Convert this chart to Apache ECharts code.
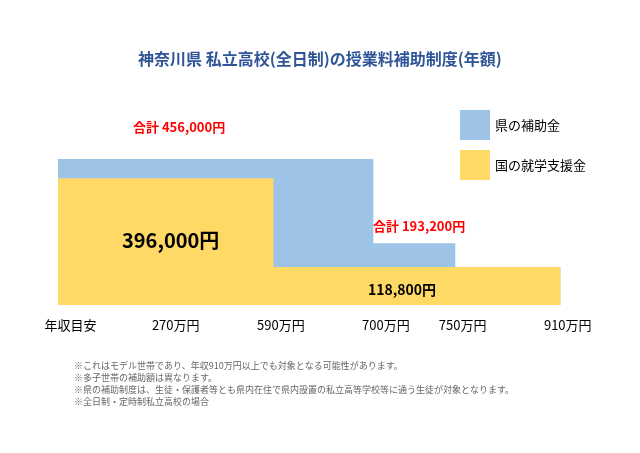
<!DOCTYPE html><html><head><meta charset="utf-8">
<script src="https://cdn.jsdelivr.net/npm/echarts@6/dist/echarts.min.js"></script>
<style>html,body{margin:0;background:#fff}#c{width:640px;height:453px}</style></head><body><div id="c"></div>
<script>
const stepX = [0, 2.05, 3, 3.78, 4.78];
const nationalAid = [396000, 118800, 118800, 118800, 118800];
const prefAid = [60000, 337200, 74400, 0, 0];
const tickPos = [0.12, 1.12, 2.12, 3.12, 3.85, 4.85];
const tickLabels = ['年収目安', '270万円', '590万円', '700万円', '750万円', '910万円'];
const notes = [
 '※これはモデル世帯であり、年収910万円以上でも対象となる可能性があります。',
 '※多子世帯の補助額は異なります。',
 '※県の補助制度は、生徒・保護者等とも県内在住で県内設置の私立高等学校等に通う生徒が対象となります。',
 '※全日制・定時制私立高校の場合'
];
const F = '"Noto Sans CJK JP", sans-serif';
const chart = echarts.init(document.getElementById('c'));
const z = (a) => stepX.map((x, i) => [x, a[i]]);
const totals = nationalAid.map((v, i) => v + prefAid[i]);
chart.setOption({
 animation: false,
 textStyle: {fontFamily: F},
 title: {text: '神奈川県 私立高校(全日制)の授業料補助制度(年額)', left: 'center', top: 46,
  textStyle: {fontFamily: F, fontSize: 16, fontWeight: 'bold', color: '#2f5597'}},
 legend: {data: ['県の補助金', '国の就学支援金'], orient: 'vertical', left: 455, top: 105,
  itemWidth: 30, itemHeight: 30, itemGap: 10, icon: 'rect',
  textStyle: {fontFamily: F, fontSize: 13, color: '#000'}},
 grid: {left: 58, right: 67, top: 145, bottom: 148},
 xAxis: {type: 'value', min: 0, max: 4.9, splitLine: {show: false}, axisLine: {show: false}, axisTick: {show: false},
  axisLabel: {customValues: tickPos, margin: 14, fontSize: 13, color: '#000', fontFamily: F,
   formatter: (v) => tickLabels[tickPos.findIndex(p => Math.abs(p - v) < 1e-6)]}},
 yAxis: {type: 'value', min: 0, max: 500000, show: false, splitLine: {show: false}},
 series: [
  {name: '県の補助金', type: 'line', step: 'end', data: z(totals), symbol: 'none', z: 1,
   lineStyle: {width: 0}, areaStyle: {color: '#9dc3e6', opacity: 1}, itemStyle: {color: '#9dc3e6'}},
  {name: '国の就学支援金', type: 'line', step: 'end', data: z(nationalAid), symbol: 'none', z: 2,
   lineStyle: {width: 0}, areaStyle: {color: '#ffd966', opacity: 1}, itemStyle: {color: '#ffd966'}}
 ],
 graphic: [
  {type: 'text', z: 100, left: 133, top: 121, style: {text: '合計 456,000円', fill: '#ff0000', font: 'bold 13px ' + F}},
  {type: 'text', z: 100, left: 122, top: 230, style: {text: '396,000円', fill: '#000', font: 'bold 20px ' + F}},
  {type: 'text', z: 100, left: 373, top: 220, style: {text: '合計 193,200円', fill: '#ff0000', font: 'bold 13px ' + F}},
  {type: 'text', z: 100, left: 368, top: 283, style: {text: '118,800円', fill: '#000', font: 'bold 14px ' + F}},
  ...notes.map((t, i) => ({type: 'text', z: 100, left: 74, top: 361 + i * 12, style: {text: t, fill: '#666', font: '9px ' + F}}))
 ]
});
</script></body></html>
